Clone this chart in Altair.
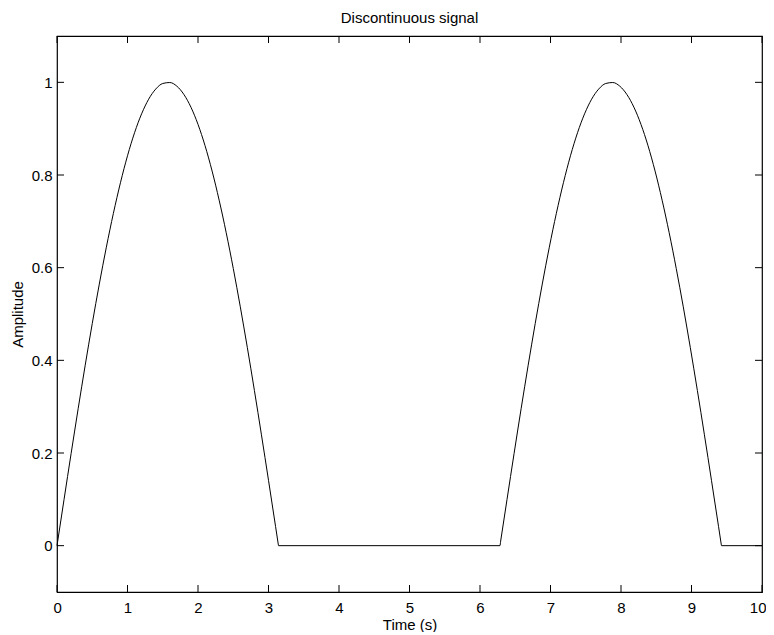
import altair as alt
import pandas as pd

# One hump of the signal (offsets within a hump, seconds) and its amplitude
hump_offsets = [0.0, 0.01, 0.1, 0.2, 0.3, 0.4, 0.5, 0.6, 0.7, 0.8, 0.9, 1.0, 1.1,
                1.2, 1.3, 1.4, 1.5, 1.6, 1.7, 1.8, 1.9, 2.0, 2.1, 2.2, 2.3, 2.4,
                2.5, 2.6, 2.7, 2.8, 2.9, 3.0, 3.1, 3.14, 3.1416]
hump_values = [0.0, 0.0100, 0.0998, 0.1987, 0.2955, 0.3894, 0.4794, 0.5646,
               0.6442, 0.7174, 0.7833, 0.8415, 0.8912, 0.9320, 0.9636, 0.9854,
               0.9975, 0.9996, 0.9917, 0.9738, 0.9463, 0.9093, 0.8632, 0.8085,
               0.7457, 0.6755, 0.5985, 0.5155, 0.4274, 0.3350, 0.2392, 0.1411,
               0.0416, 0.0016, 0.0]
hump_starts = [0.0, 6.2832]
end_time = [10.0]
end_value = [0.0]

x_ticks = [0, 1, 2, 3, 4, 5, 6, 7, 8, 9, 10]
y_ticks = [0, 0.2, 0.4, 0.6, 0.8, 1]
title_text = "Discontinuous signal"

rows = []
for s in hump_starts:
    for o, v in zip(hump_offsets, hump_values):
        rows.append({"t": s + o, "y": v})
for t, v in zip(end_time, end_value):
    rows.append({"t": t, "y": v})
df = pd.DataFrame(rows)

W, H = 705, 556
TL = 7
FONT = "Liberation Sans"

x_scale = alt.Scale(domain=[0, 10], nice=False, zero=False)
y_scale = alt.Scale(domain=[-0.1, 1.1], nice=False, zero=False)
x_axis = alt.Axis(values=x_ticks, title="Time (s)", grid=False, ticks=False,
                  domain=False, labelPadding=8, titlePadding=2, format="d",
                  labelFlush=True, labelFlushOffset=4)
y_axis = alt.Axis(values=y_ticks, title="Amplitude", grid=False, ticks=False,
                  domain=False, labelPadding=5, titlePadding=6, format=".1~f",
                  labelFlush=False)

x_enc = alt.X("t:Q", scale=x_scale, axis=x_axis)
y_enc = alt.Y("y:Q", scale=y_scale, axis=y_axis)

line = alt.Chart(df).mark_line(color="black", strokeWidth=1,
                               interpolate="monotone").encode(
    x=x_enc, y=y_enc, order="t:Q")

xt = pd.DataFrame({"t": x_ticks})
yt = pd.DataFrame({"y": y_ticks})

tick_style = dict(color="black", strokeWidth=1)
xb = alt.Chart(xt).mark_rule(**tick_style).encode(
    x=x_enc, y=alt.value(H), y2=alt.value(H - TL))
xtop = alt.Chart(xt).mark_rule(**tick_style).encode(
    x=x_enc, y=alt.value(0), y2=alt.value(TL))
yl = alt.Chart(yt).mark_rule(**tick_style).encode(
    y=y_enc, x=alt.value(0), x2=alt.value(TL))
yr = alt.Chart(yt).mark_rule(**tick_style).encode(
    y=y_enc, x=alt.value(W), x2=alt.value(W - TL))

title = alt.Chart(pd.DataFrame({"label": [title_text]})).mark_text(
    font=FONT, fontSize=15, color="black", align="center",
    baseline="alphabetic"
).encode(x=alt.value(W / 2), y=alt.value(-13.3), text="label:N")

chart = alt.layer(line, xb, xtop, yl, yr, title).properties(
    width=W, height=H,
    autosize="none",
    padding={"left": 49, "top": 28, "right": 4, "bottom": 40},
).configure_view(
    stroke="black", strokeWidth=1.2
).configure_axis(
    labelFont=FONT, titleFont=FONT, labelFontSize=15, titleFontSize=15,
    labelColor="black", titleColor="black", titleFontWeight="normal"
)

chart.save("out.html", embed_options={"renderer": "svg", "actions": False})
